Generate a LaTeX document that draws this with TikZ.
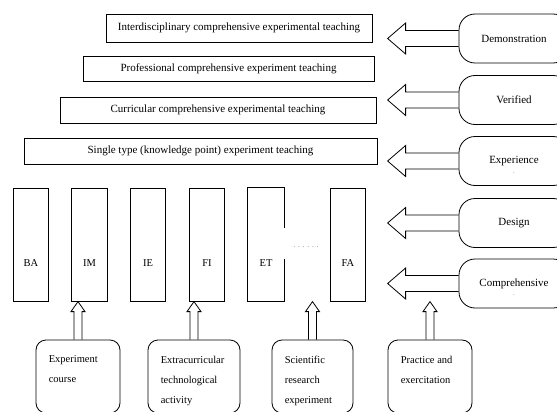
\documentclass[tikz,border=0pt]{standalone}
\usepackage{fontspec}
\setmainfont{Liberation Serif}
\begin{document}
\begin{tikzpicture}[x=1pt,y=-1pt,
level/.style={draw,line width=0.8pt,inner sep=0pt,font=\fontsize{11}{13}\selectfont},
pillar/.style={draw,line width=0.8pt,minimum width=35.5pt,minimum height=113pt,inner sep=0pt},
pname/.style={font=\fontsize{10.5}{12}\selectfont,yshift=-18.5pt},
kind/.style={draw,line width=0.8pt,rounded corners=16pt,minimum width=110pt,minimum height=49pt,font=\fontsize{11}{13}\selectfont},
dotmark/.style={font=\tiny,yshift=-12pt},
source/.style={draw,line width=0.8pt,rounded corners=10pt,minimum height=73pt,inner sep=0pt},
stext/.style={anchor=north west,align=left,inner sep=0pt,xshift=13pt,yshift=-16pt,font=\fontsize{10.5}{20}\selectfont},
block/.style={draw,line width=0.8pt,line join=miter}]
\useasboundingbox (0,0) rectangle (557,412);
\node[level,minimum width=266pt,minimum height=28pt] (L1) at (239,28) {Interdisciplinary comprehensive experimental teaching};
\node[level,minimum width=291pt,minimum height=25pt] (L2) at (228.5,68.5) {Professional comprehensive experiment teaching};
\node[level,minimum width=316pt,minimum height=26pt] (L3) at (218,110) {Curricular comprehensive experimental teaching};
\node[level,minimum width=353pt,minimum height=26pt] (L4) at (200.5,151) {Single type (knowledge point) experiment teaching};
\foreach \n/\x in {BA/31,IM/89.5,IE/148,FI/207,FA/348}
  \node[pillar,label={[pname]center:\n}] (\n) at (\x,244.5) {};
\node[pillar,draw=none,label={[pname]center:ET}] (ET) at (266,244.5) {};
\draw[line width=0.8pt] ([yshift=16.5pt]ET.east) -- (ET.north east) -- (ET.north west) -- (ET.south west) -- (ET.south east) -- ([yshift=-14.5pt]ET.east);
\node[font=\fontsize{8}{9}\selectfont,text=gray] (GAP) at (306,247) {. . . . . .};
\node[kind] (R1) at (514,38.5) {Demonstration};
\node[kind] (R2) at (514,100) {Verified};
\node[kind,label={[dotmark]center:.}] (R3) at (514,161) {Experience};
\node[kind] (R4) at (514,223) {Design};
\node[kind,label={[dotmark]center:.}] (R5) at (514,283.5) {Comprehensive};
\foreach \n in {R1,R2,R3,R4,R5}
  \draw[block] (\n.west) ++(0,-8) -- ++(-53,0) -- ++(0,-7.5) -- ++(-18,15.5) -- ++(18,15.5) -- ++(0,-7.5) -- ++(53,0);
\node[source,minimum width=84pt,label={[stext]north west:Experiment\\course}] (S1) at (78,376.5) {};
\node[source,minimum width=92pt,label={[stext]north west:Extracurricular\\technological\\activity}] (S2) at (194,376.5) {};
\node[source,minimum width=81pt,label={[stext]north west:Scientific\\research\\experiment}] (S3) at (312.5,376.5) {};
\node[source,minimum width=84pt,label={[stext]north west:Practice and\\exercitation}] (S4) at (430,376.5) {};
\foreach \n in {S1,S2,S3,S4}
  \draw[block] (\n.north) ++(-4,0) -- ++(0,-28) -- ++(-3,0) -- ++(7,-10) -- ++(7,10) -- ++(-3,0) -- ++(0,28);
\end{tikzpicture}
\end{document}
